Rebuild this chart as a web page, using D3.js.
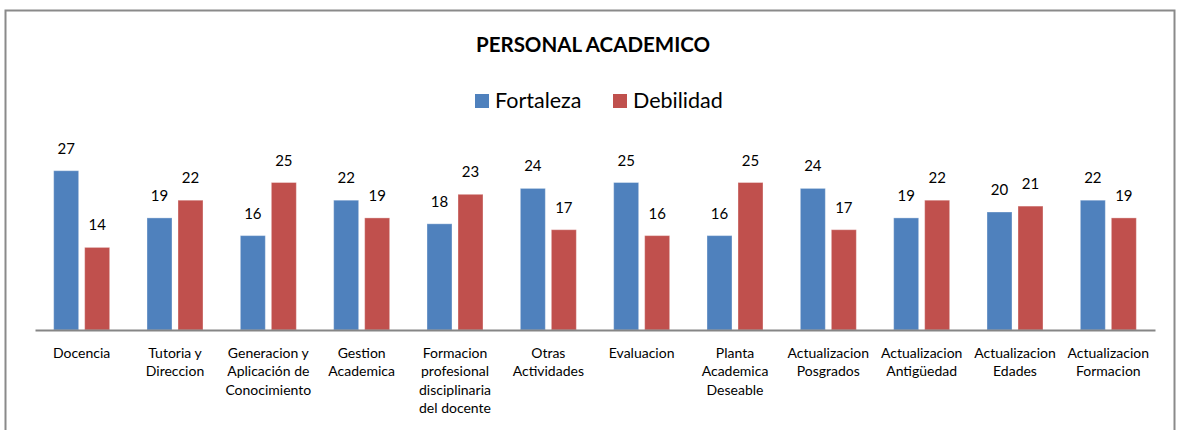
<!DOCTYPE html>
<html>
<head>
<meta charset="utf-8">
<script src="https://cdn.jsdelivr.net/npm/d3@7"></script>
<style>
  html, body { margin: 0; background: #fff; overflow: hidden; }
  svg { display: block; }
  text { font-family: Lato, "Noto Sans", sans-serif; fill: #000; }
</style>
</head>
<body>
<svg id="chart"></svg>
<script>
const categories = [
  ['Docencia'],
  ['Tutoria y', 'Direccion'],
  ['Generacion y', 'Aplicación de', 'Conocimiento'],
  ['Gestion', 'Academica'],
  ['Formacion', 'profesional', 'disciplinaria', 'del docente'],
  ['Otras', 'Actividades'],
  ['Evaluacion'],
  ['Planta', 'Academica', 'Deseable'],
  ['Actualizacion', 'Posgrados'],
  ['Actualizacion', 'Antigüedad'],
  ['Actualizacion', 'Edades'],
  ['Actualizacion', 'Formacion'],
];
const fortaleza = [27, 19, 16, 22, 18, 24, 25, 16, 24, 19, 20, 22];
const debilidad = [14, 22, 25, 19, 23, 17, 16, 25, 17, 22, 21, 19];
const seriesNames = ['Fortaleza', 'Debilidad'];
const seriesColors = ['#4F81BD', '#C0504D'];

const width = 1178;
const height = 430;

const chart = d3.select('#chart')
  .attr('width', width)
  .attr('height', height);

// outer chart border (bottom runs past the picture)
chart.append('rect')
  .attr('x', 5.5).attr('y', 10.5)
  .attr('width', 1169).attr('height', 600)
  .attr('fill', 'none')
  .attr('stroke', '#8a8a8a')
  .attr('stroke-width', 2);

chart.append('text')
  .attr('x', 593).attr('y', 52)
  .attr('text-anchor', 'middle')
  .attr('font-size', 20.5)
  .attr('font-weight', 'bold')
  .text('PERSONAL ACADEMICO');

const x = d3.scaleBand()
  .domain(d3.range(categories.length))
  .range([35, 1155]);

const y = d3.scaleLinear()
  .domain([0, 30])
  .range([330, 153]);

const barW = 25;
const gap = 6;
const series = [fortaleza, debilidad];

series.forEach((vals, s) => {
  const g = chart.append('g').attr('class', 'series');
  const bx = i => x(i) + x.bandwidth() / 2 + (s === 0 ? -(barW + gap / 2) : gap / 2);

  g.selectAll('rect')
    .data(vals)
    .enter().append('rect')
      .attr('x', (d, i) => bx(i))
      .attr('y', d => y(d))
      .attr('width', barW)
      .attr('height', d => y(0) - y(d))
      .attr('fill', seriesColors[s])
      .attr('stroke', 'rgba(255,255,255,0.35)')
      .attr('stroke-width', 1);

  g.selectAll('text')
    .data(vals)
    .enter().append('text')
      .attr('x', (d, i) => bx(i) + barW / 2)
      .attr('y', d => y(d) - 17)
      .attr('text-anchor', 'middle')
      .attr('font-size', 15)
      .text(d => d);
});

// category axis
const axis = chart.append('g')
  .attr('transform', `translate(0, ${y(0)})`)
  .call(d3.axisBottom(x).tickSize(0).tickFormat(''));
axis.select('.domain').attr('stroke', '#868686').attr('stroke-width', 2);

const labels = chart.append('g');
categories.forEach((lines, i) => {
  const t = labels.append('text')
    .attr('x', x(i) + x.bandwidth() / 2)
    .attr('y', 358)
    .attr('text-anchor', 'middle')
    .attr('font-size', 14);
  lines.forEach((line, j) => {
    t.append('tspan')
      .attr('x', x(i) + x.bandwidth() / 2)
      .attr('dy', j === 0 ? 0 : 18.3)
      .text(line);
  });
});

// legend
const legend = chart.append('g');
const legendX = [475, 613];
seriesNames.forEach((name, s) => {
  legend.append('rect')
    .attr('x', legendX[s]).attr('y', 94)
    .attr('width', 14).attr('height', 14)
    .attr('fill', seriesColors[s]);
  legend.append('text')
    .attr('x', legendX[s] + 20).attr('y', 108)
    .attr('font-size', 21.5)
    .text(name);
});
</script>
</body>
</html>
